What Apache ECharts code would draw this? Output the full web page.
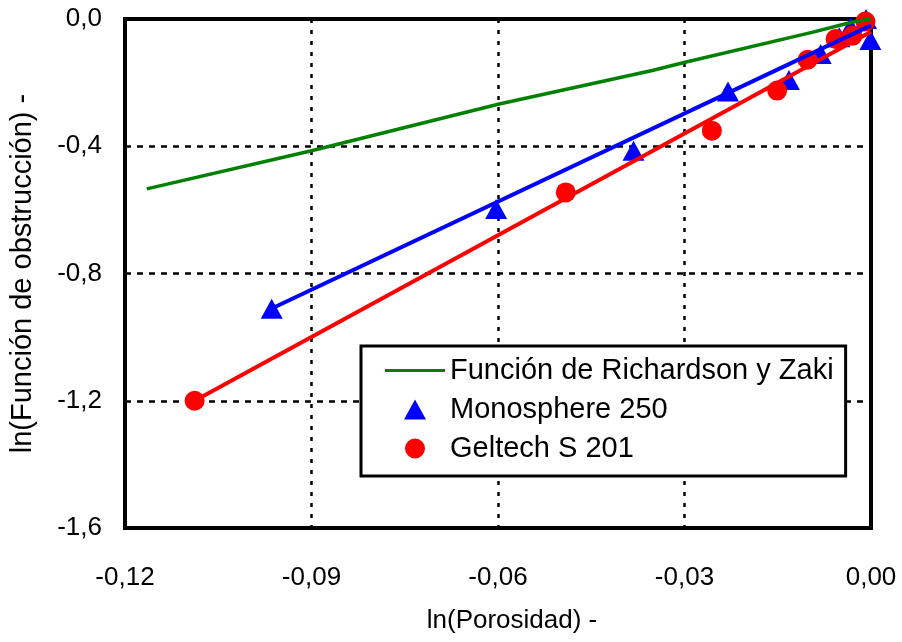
<!DOCTYPE html>
<html>
<head>
<meta charset="utf-8">
<script src="https://cdn.jsdelivr.net/npm/echarts@6/dist/echarts.min.js"></script>
<style>
  html, body { margin: 0; padding: 0; background: #fff; }
  #chart { width: 902px; height: 642px; }
</style>
</head>
<body>
<div id="chart"></div>
<script>
// Función de Richardson y Zaki
const rzX = [-0.1165, -0.090, -0.0598, -0.0352, -0.0299, -0.0095, -0.0031, 0]
const rzY = [-0.534, -0.414, -0.267, -0.162, -0.136, -0.042, -0.010, 0]

// Monosphere 250
const monoX = [-0.0964, -0.0603, -0.0382, -0.0230, -0.0132, -0.0081, -0.0051, -0.0033, -0.0008, -0.0001]
const monoY = [-0.911, -0.597, -0.414, -0.228, -0.192, -0.110, -0.057, -0.025, 0.0, -0.066]
const monoFitX = [-0.0964, 0]
const monoFitY = [-0.91, -0.02]

// Geltech S 201
const gelX = [-0.1088, -0.0491, -0.0256, -0.0151, -0.0102, -0.0057, -0.0030, -0.0009]
const gelY = [-1.200, -0.545, -0.351, -0.225, -0.128, -0.063, -0.053, -0.008]
const gelFitX = [-0.1088, 0]
const gelFitY = [-1.2, -0.04]

const pairs = (xs, ys) => xs.map((x, i) => [x, ys[i]])
const comma = (v, d) => v.toFixed(d).replace('.', ',')

// legend icons in a 60x20 box (tiny corner points keep the box size)
const box = 'M0,0 L0.01,0 L0.01,0.01 Z M60,20 L59.99,20 L59.99,19.99 Z '
const lineIcon = 'path://' + box + 'M0,8.5 L60,8.5 L60,11.5 L0,11.5 Z'
const triIcon = 'path://' + box + 'M30,0 L41,20 L19,20 Z'
const dotIcon = 'path://' + box + 'M40,10 A10,10 0 1 1 20,10 A10,10 0 1 1 40,10 Z'

const FONT = '"Liberation Sans", Arial, sans-serif'
const chart = echarts.init(document.getElementById('chart'))

chart.setOption({
  backgroundColor: '#fff',
  animation: false,
  textStyle: { fontFamily: FONT, color: '#000' },
  grid: {
    left: 125,
    right: 31,
    top: 19,
    bottom: 114,
    containLabel: false,
    outerBoundsMode: 'none',
    show: true,
    borderColor: '#000',
    borderWidth: 4,
    backgroundColor: '#fff',
  },
  legend: {
    data: [
      { name: 'Función de Richardson y Zaki', icon: lineIcon },
      { name: 'Monosphere 250', icon: triIcon },
      { name: 'Geltech S 201', icon: dotIcon },
    ],
    orient: 'vertical',
    left: 361,
    top: 346,
    padding: [10, 12, 13, 24],
    itemWidth: 60,
    itemHeight: 20,
    itemGap: 10,
    backgroundColor: '#fff',
    borderColor: '#000',
    borderWidth: 3,
    textStyle: { fontSize: 29, fontFamily: FONT, color: '#000' },
  },
  xAxis: {
    type: 'value',
    min: -0.12,
    max: 0,
    interval: 0.03,
    name: 'ln(Porosidad) -',
    nameLocation: 'middle',
    nameGap: 80,
    nameTextStyle: { fontSize: 26, fontFamily: FONT, color: '#000', padding: [0, 0, 0, 28] },
    axisLine: { show: true, lineStyle: { color: '#000', width: 4 } },
    axisTick: { show: false },
    axisLabel: { fontSize: 26, margin: 37, color: '#000', formatter: v => comma(v, 2) },
    splitLine: { show: true, lineStyle: { color: '#000', width: 2.5, type: [4, 7] } },
  },
  yAxis: {
    type: 'value',
    min: -1.6,
    max: 0,
    interval: 0.4,
    name: 'ln(Función de obstrucción) -',
    nameLocation: 'middle',
    nameGap: 88,
    nameTextStyle: { fontSize: 29, fontFamily: FONT, color: '#000' },
    axisLine: { show: true, lineStyle: { color: '#000', width: 4 } },
    axisTick: { show: false },
    axisLabel: { fontSize: 26, margin: 23, color: '#000', formatter: v => comma(v, 1) },
    splitLine: { show: true, lineStyle: { color: '#000', width: 2.5, type: [6, 6] } },
  },
  series: [
    {
      name: 'Función de Richardson y Zaki',
      type: 'line',
      data: pairs(rzX, rzY),
      symbol: 'none',
      showSymbol: false,
      lineStyle: { color: '#008000', width: 3.5 },
      itemStyle: { color: '#008000' },
    },
    {
      name: 'Monosphere 250',
      type: 'scatter',
      data: pairs(monoX, monoY),
      symbol: 'triangle',
      symbolSize: [22, 20],
      itemStyle: { color: '#0000ff', opacity: 1 },
    },
    {
      name: 'Geltech S 201',
      type: 'scatter',
      data: pairs(gelX, gelY),
      symbol: 'circle',
      symbolSize: 20,
      itemStyle: { color: '#ff0000', opacity: 1 },
    },
    {
      name: 'ajuste Geltech',
      type: 'line',
      data: pairs(gelFitX, gelFitY),
      symbol: 'none',
      lineStyle: { color: '#ff0000', width: 4 },
    },
    {
      name: 'ajuste Monosphere',
      type: 'line',
      data: pairs(monoFitX, monoFitY),
      symbol: 'none',
      lineStyle: { color: '#0000ff', width: 4 },
    },
  ],
})
</script>
</body>
</html>
